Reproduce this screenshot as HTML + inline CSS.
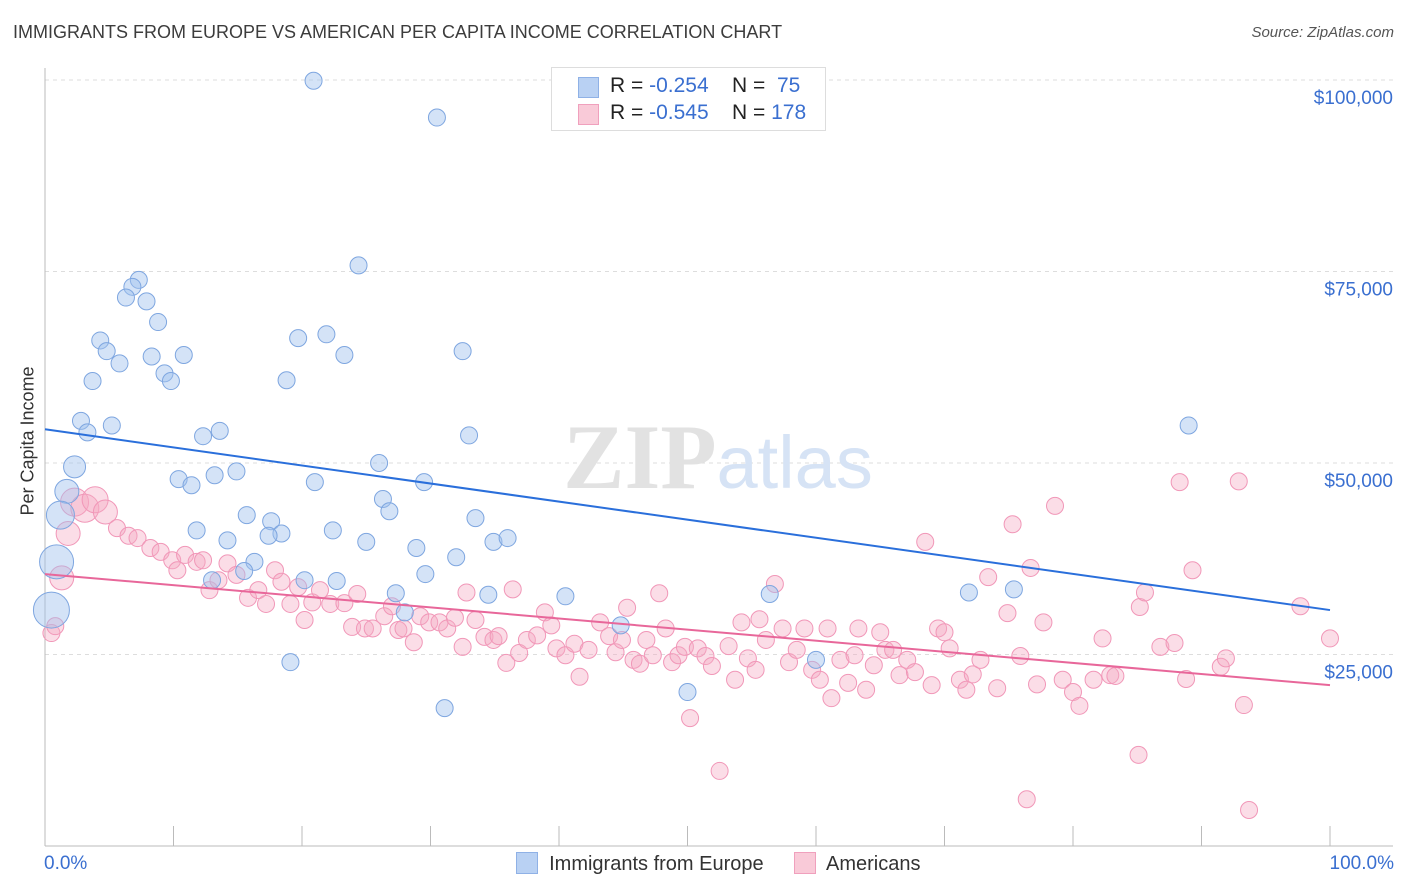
<!DOCTYPE html>
<html><head><meta charset="utf-8"><style>
body{margin:0;background:#fff;font-family:"Liberation Sans",sans-serif}
#wrap{position:relative;width:1406px;height:892px;overflow:hidden}
.t{position:absolute;white-space:nowrap}
</style></head><body>
<div id="wrap">
<div class="t" style="left:13px;top:22px;font-size:18px;color:#3c3c3c">IMMIGRANTS FROM EUROPE VS AMERICAN PER CAPITA INCOME CORRELATION CHART</div>
<div class="t" style="right:12px;top:24px;font-size:15px;color:#555;font-style:italic">Source: ZipAtlas.com</div>
<svg id="plot" width="1406" height="892" style="position:absolute;left:0;top:0"></svg>
</div>
<script>
const xTicks=[0,10,20,30,40,50,60,70,80,90,100];
const yTicks=[25000,50000,75000,100000];
const yTickLabels=["$25,000","$50,000","$75,000","$100,000"];
const blueX=[20.9,30.5,24.4,7.3,6.8,6.3,7.9,8.8,4.3,19.7,21.9,4.8,8.3,10.8,23.3,32.5,5.8,9.3,9.8,3.7,18.8,2.8,5.2,3.3,13.6,12.3,33.0,89.0,2.3,26.0,14.9,13.2,10.4,11.4,21.0,29.5,1.7,26.3,26.8,1.2,15.7,33.5,17.6,11.8,22.4,18.4,17.4,14.2,25.0,34.9,36.0,28.9,32.0,0.9,16.3,15.5,29.6,13.0,20.2,22.7,27.3,34.5,40.5,56.4,71.9,75.4,0.5,28.0,44.8,60.0,19.1,50.0,31.1];
const blueY=[99.9,95.1,75.8,73.9,73.0,71.6,71.1,68.4,66.0,66.3,66.8,64.6,63.9,64.1,64.1,64.6,63.0,61.7,60.7,60.7,60.8,55.5,54.9,54.0,54.2,53.5,53.6,54.9,49.5,50.0,48.9,48.4,47.9,47.1,47.5,47.5,46.3,45.3,43.7,43.2,43.2,42.8,42.4,41.2,41.2,40.8,40.5,39.9,39.7,39.7,40.2,38.9,37.7,37.1,37.1,35.9,35.5,34.7,34.7,34.6,33.0,32.8,32.6,32.9,33.1,33.5,30.8,30.5,28.8,24.3,24.0,20.1,18.0];
const pinkX=[0.5,0.8,1.3,1.8,2.3,3.1,3.9,4.7,5.6,6.5,7.2,8.2,9.0,9.9,10.3,10.9,11.8,12.3,12.8,13.5,14.2,14.9,15.8,16.6,17.2,17.9,18.4,19.1,19.7,20.2,20.8,21.4,22.2,23.3,23.9,24.3,24.9,25.5,26.4,27.0,27.5,27.9,28.7,29.2,29.9,30.7,31.3,31.9,32.5,32.8,33.5,34.2,34.9,35.3,35.9,36.4,36.9,37.5,38.3,38.9,39.4,39.8,40.5,41.2,41.6,42.3,43.2,43.9,44.4,44.9,45.3,45.8,46.3,46.8,47.3,47.8,48.3,48.8,49.3,49.8,50.2,50.8,51.4,51.9,52.5,53.2,53.7,54.2,54.7,55.3,55.6,56.1,56.8,57.4,57.9,58.5,59.1,59.7,60.3,60.9,61.2,61.9,62.5,63.0,63.3,63.9,64.5,65.0,65.4,66.0,66.5,67.1,67.7,68.5,69.0,69.5,70.0,70.4,71.2,71.7,72.2,72.8,73.4,74.1,74.9,75.3,75.9,76.4,76.7,77.2,77.7,78.6,79.2,80.0,80.5,81.6,82.3,82.9,83.3,85.1,85.2,85.6,86.8,87.9,88.3,88.8,89.3,91.5,91.9,92.9,93.3,93.7,97.7,100];
const pinkY=[27.8,28.7,35.0,40.8,44.9,44.1,45.2,43.6,41.5,40.5,40.2,38.9,38.4,37.3,36.0,38.0,37.1,37.3,33.4,34.7,36.9,35.4,32.4,33.4,31.6,36.0,34.5,31.6,33.8,29.5,31.8,33.4,31.6,31.7,28.6,32.9,28.4,28.4,30.0,31.3,28.2,28.4,26.6,30.0,29.2,29.2,28.4,29.8,26.0,33.1,29.5,27.3,26.9,27.4,23.9,33.5,25.2,26.9,27.5,30.5,28.8,25.8,24.9,26.4,22.1,25.6,29.2,27.4,25.3,26.9,31.1,24.3,23.8,26.9,24.9,33.0,28.4,24.0,24.9,26.0,16.7,25.8,24.8,23.5,9.8,26.1,21.7,29.2,24.5,23.0,29.6,26.9,34.2,28.4,24.0,25.6,28.4,23.0,21.7,28.4,19.3,24.3,21.3,24.9,28.4,20.4,23.6,27.9,25.6,25.6,22.3,24.3,22.7,39.7,21.0,28.4,27.9,25.8,21.7,20.4,22.4,24.3,35.1,20.6,30.4,42.0,24.8,6.1,36.3,21.1,29.2,44.4,21.7,20.1,18.3,21.7,27.1,22.3,22.2,11.9,31.2,33.1,26.0,26.5,47.5,21.8,36.0,23.4,24.5,47.6,18.4,4.7,31.3,27.1];
const blueBig={0.9:17,0.5:18,1.2:14,1.7:12,2.3:11};
const pinkBig={1.3:12,1.8:12,2.3:14,3.1:14,3.9:13,4.7:12};
const blueTrend=[54.4,30.8];
const pinkTrend=[35.5,21.0];

const NS="http://www.w3.org/2000/svg";
const svg=document.getElementById('plot');
const X0=45,X1=1330,YB=846,YT=80;
const sx=v=>X0+(X1-X0)*v/100;
const sy=v=>YB-(YB-YT)*v/100000;
function mk(tag,attrs,parent){const e=document.createElementNS(NS,tag);for(const k in attrs)e.setAttribute(k,attrs[k]);(parent||svg).appendChild(e);return e;}

// grid
yTicks.forEach((t,i)=>{
 const g=mk('line',{x1:X0,x2:1393,y1:sy(t),y2:sy(t),stroke:'#ddd','stroke-dasharray':'4,4'});
 
 
 const tx=mk('text',{x:1393,y:sy(t)+24,'text-anchor':'end','font-size':19,fill:'#3a6fd0','font-family':'Liberation Sans, sans-serif'});
 tx.textContent=yTickLabels[i];
 
 
});
const ax=mk('line',{x1:X0,x2:X0,y1:68,y2:YB,stroke:'#bbb'});


const bx=mk('line',{x1:X0,x2:1393,y1:YB,y2:YB,stroke:'#bbb'});


xTicks.forEach(t=>{const l=mk('line',{x1:sx(t),x2:sx(t),y1:826,y2:YB,stroke:'#bbb'});
 
 });

// watermark
const wm=mk('text',{x:718,y:488,'text-anchor':'middle','font-size':92,fill:'#e6e6e6','font-family':'Liberation Serif, serif'});
wm.innerHTML='<tspan font-weight="bold" fill="#e2e2e2">ZIP</tspan><tspan font-family="Liberation Sans, sans-serif" fill="#d6e3f5" font-size="74">atlas</tspan>';



pinkX.forEach((x,i)=>{const c=mk('circle',{cx:sx(x),cy:sy(pinkY[i]*1000),r:pinkBig[x]||8.5,fill:'rgba(246,170,196,0.4)',stroke:'#f197b8','stroke-width':1});
 
 });
blueX.forEach((x,i)=>{const c=mk('circle',{cx:sx(x),cy:sy(blueY[i]*1000),r:blueBig[x]||8.5,fill:'rgba(160,192,238,0.45)',stroke:'#7ea6e0','stroke-width':1});
 
 });
const bl=mk('line',{x1:sx(0),x2:sx(100),y1:sy(blueTrend[0]*1000),y2:sy(blueTrend[1]*1000),stroke:'#2a6fdb','stroke-width':2});


const pl=mk('line',{x1:sx(0),x2:sx(100),y1:sy(pinkTrend[0]*1000),y2:sy(pinkTrend[1]*1000),stroke:'#e8679a','stroke-width':2});


</script>
<div class="t" style="left:-32px;top:445px;font-size:18px;color:#333;transform:rotate(-90deg);transform-origin:center;width:120px;text-align:center">Per Capita Income</div>
<div class="t" style="left:44px;top:853px;font-size:19px;color:#3a6fd0">0.0%</div>
<div class="t" style="right:12px;top:853px;font-size:19px;color:#3a6fd0">100.0%</div>
<div style="position:absolute;left:551px;top:67px;width:273px;height:62px;border:1px solid #ddd;background:#fff;font-size:21px">
 <div style="position:absolute;left:26px;top:9px;width:19px;height:19px;background:#b9d1f3;border:1px solid #8fb1e6"></div>
 <div class="t" style="left:58px;top:6px;color:#222">R = <span style="color:#3a6fd0">-0.254</span>&nbsp;&nbsp;&nbsp; N = &nbsp;<span style="color:#3a6fd0">75</span></div>
 <div style="position:absolute;left:26px;top:36px;width:19px;height:19px;background:#f9cad8;border:1px solid #f0a0bd"></div>
 <div class="t" style="left:58px;top:33px;color:#222">R = <span style="color:#3a6fd0">-0.545</span>&nbsp;&nbsp;&nbsp; N = <span style="color:#3a6fd0">178</span></div>
</div>
<div style="position:absolute;left:516px;top:852px;font-size:20px;color:#333">
 <div style="position:absolute;left:0;top:0;white-space:nowrap"><span style="display:inline-block;width:20px;height:20px;background:#b9d1f3;border:1px solid #8fb1e6;vertical-align:-4px"></span>&nbsp; Immigrants from Europe</div>
 <div style="position:absolute;left:278px;top:0;white-space:nowrap"><span style="display:inline-block;width:20px;height:20px;background:#f9cad8;border:1px solid #f0a0bd;vertical-align:-4px"></span>&nbsp; Americans</div>
</div>
</body></html>
